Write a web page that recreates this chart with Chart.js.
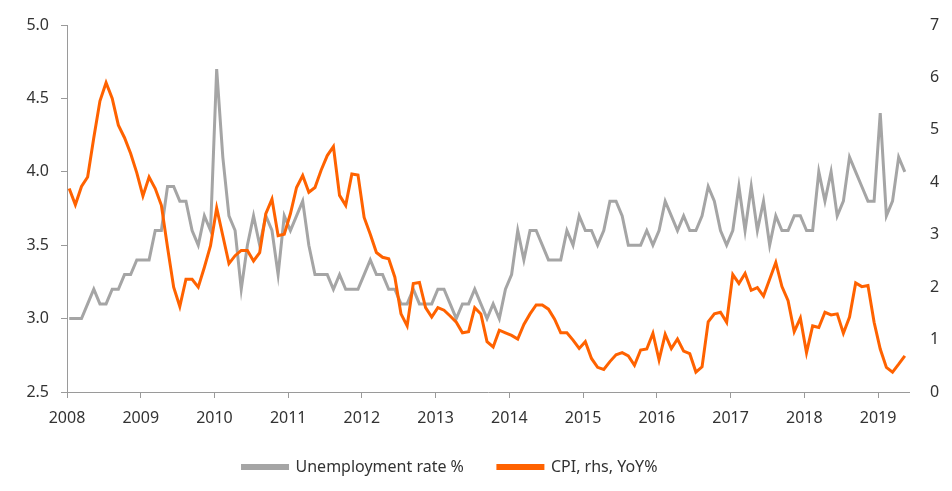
<!DOCTYPE html>
<html>
<head>
<meta charset="utf-8">
<script src="https://cdn.jsdelivr.net/npm/chart.js@4.4.1/dist/chart.umd.min.js"></script>
<style>
  html, body { margin: 0; padding: 0; background: #fff; }
  #wrap { width: 952px; height: 491px; position: relative; }
</style>
</head>
<body>
<div id="wrap"><canvas id="chart" width="952" height="491"></canvas></div>
<script>
// monthly data, Jan 2008 - May 2019
const startYear = 2008;
const yearTicks = [2008, 2009, 2010, 2011, 2012, 2013, 2014, 2015, 2016, 2017, 2018, 2019];
const leftTicks = [2.5, 3.0, 3.5, 4.0, 4.5, 5.0];
const rightTicks = [0, 1, 2, 3, 4, 5, 6, 7];

const unemployment = [
  3.0, 3.0, 3.0, 3.1, 3.2, 3.1, 3.1, 3.2, 3.2, 3.3, 3.3, 3.4,
  3.4, 3.4, 3.6, 3.6, 3.9, 3.9, 3.8, 3.8, 3.6, 3.5, 3.7, 3.6,
  4.7, 4.1, 3.7, 3.6, 3.2, 3.5, 3.7, 3.5, 3.7, 3.6, 3.3, 3.7,
  3.6, 3.7, 3.8, 3.5, 3.3, 3.3, 3.3, 3.2, 3.3, 3.2, 3.2, 3.2,
  3.3, 3.4, 3.3, 3.3, 3.2, 3.2, 3.1, 3.1, 3.2, 3.1, 3.1, 3.1,
  3.2, 3.2, 3.1, 3.0, 3.1, 3.1, 3.2, 3.1, 3.0, 3.1, 3.0, 3.2,
  3.3, 3.6, 3.4, 3.6, 3.6, 3.5, 3.4, 3.4, 3.4, 3.6, 3.5, 3.7,
  3.6, 3.6, 3.5, 3.6, 3.8, 3.8, 3.7, 3.5, 3.5, 3.5, 3.6, 3.5,
  3.6, 3.8, 3.7, 3.6, 3.7, 3.6, 3.6, 3.7, 3.9, 3.8, 3.6, 3.5,
  3.6, 3.9, 3.6, 3.9, 3.6, 3.8, 3.5, 3.7, 3.6, 3.6, 3.7, 3.7,
  3.6, 3.6, 4.0, 3.8, 4.0, 3.7, 3.8, 4.1, 4.0, 3.9, 3.8, 3.8,
  4.4, 3.7, 3.8, 4.1, 4.0
];

const cpi = [
  3.88, 3.57, 3.92, 4.10, 4.85, 5.55, 5.90, 5.60, 5.09, 4.85, 4.55, 4.18,
  3.74, 4.10, 3.88, 3.56, 2.76, 2.00, 1.63, 2.15, 2.15, 2.00, 2.38, 2.79,
  3.51, 2.98, 2.45, 2.60, 2.70, 2.70, 2.50, 2.66, 3.40, 3.68, 2.98, 3.01,
  3.40, 3.90, 4.13, 3.81, 3.90, 4.23, 4.51, 4.68, 3.75, 3.56, 4.16, 4.14,
  3.33, 3.01, 2.66, 2.57, 2.54, 2.19, 1.49, 1.26, 2.07, 2.09, 1.61, 1.43,
  1.61, 1.56, 1.45, 1.33, 1.13, 1.15, 1.61, 1.49, 0.96, 0.86, 1.18, 1.13,
  1.08, 1.01, 1.29, 1.49, 1.66, 1.66, 1.58, 1.39, 1.13, 1.13, 0.99, 0.83,
  0.96, 0.64, 0.47, 0.43, 0.58, 0.71, 0.75, 0.69, 0.51, 0.80, 0.82, 1.12,
  0.61, 1.10, 0.83, 1.01, 0.78, 0.73, 0.38, 0.48, 1.34, 1.49, 1.52, 1.33,
  2.24, 2.07, 2.26, 1.94, 1.99, 1.83, 2.15, 2.47, 2.01, 1.74, 1.15, 1.41,
  0.75, 1.26, 1.23, 1.52, 1.47, 1.49, 1.12, 1.43, 2.08, 2.01, 2.03, 1.33,
  0.82, 0.47, 0.38, 0.53, 0.69
];

// month index -> decimal year on the x axis
function toPoints(values) {
  return values.map((v, i) => ({ x: startYear + 0.03 + i / 12, y: v }));
}

const textColor = '#333333';
const axisColor = '#9a9a9a';
const font = { family: "'Noto Sans', sans-serif", size: 16 };

// legend sits a bit left of centre in the original
const legendShift = {
  id: 'legendShift',
  afterLayout(chart) {
    chart.legend.left -= 26;
    chart.legend.right -= 26;
  }
};

new Chart(document.getElementById('chart'), {
  type: 'line',
  data: {
    datasets: [{
      label: 'Unemployment rate %',
      data: toPoints(unemployment),
      yAxisID: 'y',
      borderColor: '#a5a5a5',
      backgroundColor: '#a5a5a5',
      borderWidth: 3,
      pointRadius: 0,
      tension: 0,
      order: 2
    }, {
      label: 'CPI, rhs, YoY%',
      data: toPoints(cpi),
      yAxisID: 'y1',
      borderColor: '#ff6200',
      backgroundColor: '#ff6200',
      borderWidth: 3,
      pointRadius: 0,
      tension: 0,
      order: 1
    }]
  },
  plugins: [legendShift],
  options: {
    responsive: false,
    animation: false,
    layout: { padding: { top: 25, bottom: 6, left: 0, right: 0 } },
    plugins: {
      tooltip: { enabled: false },
      legend: {
        position: 'bottom',
        labels: {
          color: textColor,
          font: font,
          boxWidth: 45,
          boxHeight: 3,
          padding: 34,
          sort: (a, b) => a.datasetIndex - b.datasetIndex
        }
      }
    },
    scales: {
      x: {
        type: 'linear',
        min: 2008,
        max: 2019.42,
        afterBuildTicks: scale => { scale.ticks = yearTicks.map(v => ({ value: v })); },
        ticks: {
          color: textColor,
          font: font,
          padding: 11,
          maxRotation: 0,
          callback: v => String(v)
        },
        grid: { drawOnChartArea: false, drawTicks: true, tickLength: 6, color: axisColor },
        border: { display: true, color: axisColor, width: 1 },
        afterFit: scale => { scale.height = 33; }
      },
      y: {
        position: 'left',
        min: 2.5,
        max: 5.0,
        afterBuildTicks: scale => { scale.ticks = leftTicks.map(v => ({ value: v })); },
        ticks: {
          color: textColor,
          font: font,
          padding: 12,
          callback: v => Number(v).toFixed(1)
        },
        grid: { drawOnChartArea: false, drawTicks: true, tickLength: 6, color: axisColor },
        border: { display: true, color: axisColor, width: 1 },
        afterFit: scale => { scale.width = 67; }
      },
      y1: {
        position: 'right',
        min: 0,
        max: 7,
        afterBuildTicks: scale => { scale.ticks = rightTicks.map(v => ({ value: v })); },
        ticks: {
          color: textColor,
          font: font,
          padding: 0,
          callback: v => String(v)
        },
        // invisible tick marks keep the labels away from the plot
        grid: { drawOnChartArea: false, drawTicks: true, tickLength: 21, color: 'rgba(0,0,0,0)' },
        border: { display: false },
        afterFit: scale => { scale.width = 43; }
      }
    }
  }
});
</script>
</body>
</html>
